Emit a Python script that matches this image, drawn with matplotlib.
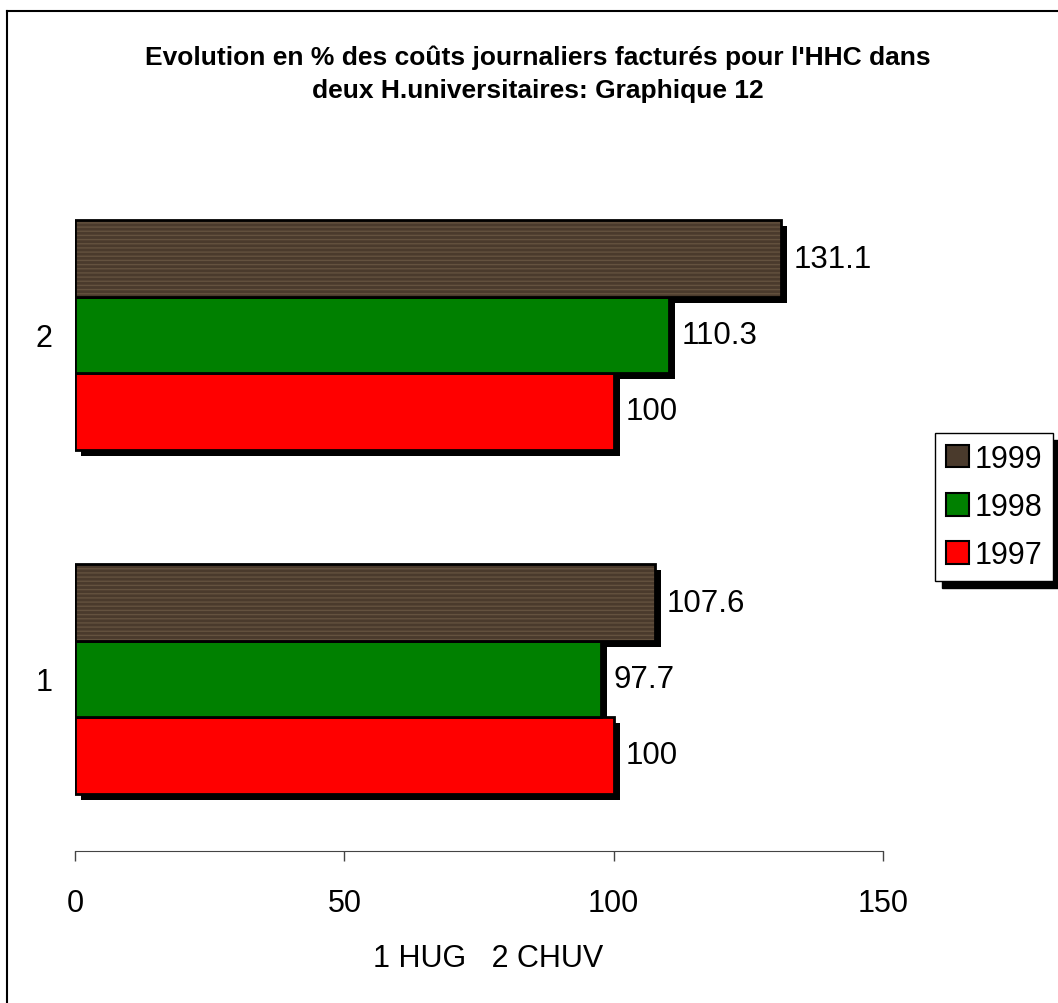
import matplotlib
matplotlib.use('Agg')
import matplotlib.pyplot as plt
import matplotlib.transforms as mtransforms
from matplotlib.lines import Line2D
from matplotlib.patches import Patch
import numpy as np

plt.rcParams['font.family'] = ['Liberation Sans', 'DejaVu Sans']

# data
categories = ['1', '2']          # 1 HUG, 2 CHUV
years = ['1997', '1998', '1999']
vals_1997 = [100, 100]
vals_1998 = [97.7, 110.3]
vals_1999 = [107.6, 131.1]
labels_1997 = ['100', '100']
labels_1998 = ['97.7', '110.3']
labels_1999 = ['107.6', '131.1']

colors = {'1997': '#ff0000', '1998': '#008000', '1999': '#4a3a2c'}

fig = plt.figure(figsize=(10.58, 10.04), dpi=100)
ax = fig.add_axes([0.0709, 0.1514, 0.7637, 0.6853])

y = np.arange(1, len(categories) + 1)
bh = 0.222
series = [
    ('1997', vals_1997, labels_1997, -bh),
    ('1998', vals_1998, labels_1998, 0.0),
    ('1999', vals_1999, labels_1999, bh),
]

# shadows first, offset down-right in pixels
shadow_tr = mtransforms.offset_copy(ax.transData, fig=fig, x=6, y=-6, units='dots')
for name, vals, _, off in series:
    ax.barh(y + off, vals, height=bh, color='black', linewidth=0,
            transform=shadow_tr, zorder=1)

for name, vals, labs, off in series:
    if name == '1999':
        # wood-like look: dark brown with lighter horizontal streaks
        ax.barh(y + off, vals, height=bh, facecolor=colors[name],
                edgecolor='#64523f', hatch='----', linewidth=0, zorder=2)
        ax.barh(y + off, vals, height=bh, fill=False, edgecolor='black',
                linewidth=2, zorder=3)
    else:
        ax.barh(y + off, vals, height=bh, color=colors[name],
                edgecolor='black', linewidth=2, zorder=2)
    for yy, v, lab in zip(y + off, vals, labs):
        ax.annotate(lab, xy=(v, yy), xytext=(12, 0), textcoords='offset pixels',
                    va='center', ha='left', fontsize=22.5)

ax.set_xlim(0, 150)
ax.set_ylim(0.5, 2.5)
ax.set_xticks([0, 50, 100, 150])
ax.set_yticks(y)
ax.set_yticklabels(categories)
ax.tick_params(axis='y', length=0, labelsize=22, pad=16)
ax.tick_params(axis='x', direction='out', length=7, width=1, color='#444444',
               labelsize=22, pad=20)
for s in ['top', 'right', 'left']:
    ax.spines[s].set_visible(False)
ax.spines['bottom'].set_color('#444444')

fig.text(488 / 1058, 1 - 959 / 1004, '1 HUG   2 CHUV', ha='center', va='center',
         fontsize=22)

fig.text(538 / 1058, 1 - 74 / 1004,
         "Evolution en % des coûts journaliers facturés pour l'HHC dans\n"
         "deux H.universitaires: Graphique 12",
         ha='center', va='center', fontsize=19, fontweight='bold', linespacing=1.45)

handles = [Patch(facecolor=colors[n], edgecolor='black', linewidth=1.5, label=n)
           for n in ['1999', '1998', '1997']]
leg = fig.legend(handles=handles, loc='center', bbox_to_anchor=(994 / 1058, 1 - 508 / 1004),
                 fontsize=22, frameon=True, fancybox=False, edgecolor='black',
                 handlelength=0.75, handleheight=0.75, handletextpad=0.2,
                 borderpad=0.35, labelspacing=0.6,
                 shadow={'color': 'black', 'alpha': 1, 'ox': 5, 'oy': -5})
leg.get_frame().set_linewidth(1)

# outer frame: only the left and top edges are inside the picture
fig.add_artist(Line2D([7 / 1058, 7 / 1058], [0, 1 - 12 / 1004], transform=fig.transFigure,
                      color='black', linewidth=1.5))
fig.add_artist(Line2D([7 / 1058, 1], [1 - 12 / 1004, 1 - 12 / 1004], transform=fig.transFigure,
                      color='black', linewidth=1.5))

fig.savefig('out.png', dpi=100)
